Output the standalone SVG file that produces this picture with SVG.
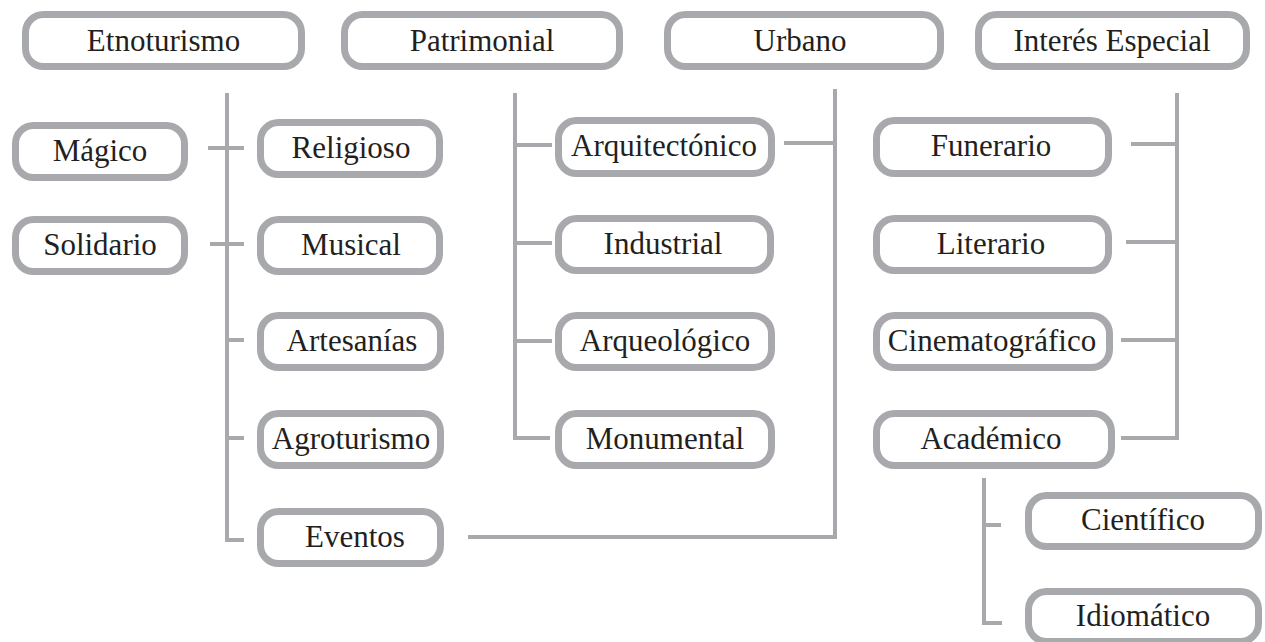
<svg xmlns="http://www.w3.org/2000/svg" width="1265" height="642" viewBox="0 0 1265 642">
  <style>
    .box { fill: #ffffff; stroke: #a7a9ac; stroke-width: 7; }
    .lbl { font-family: "Liberation Serif", "Times New Roman", serif; font-size: 31px; fill: #231f20; text-anchor: middle; }
    .wire { fill: none; stroke: #a7a9ac; stroke-width: 4; stroke-linecap: butt; stroke-linejoin: miter; }
  </style>

  <!-- connectors -->
  <g id="connectors">
    <!-- Etnoturismo branch -->
    <path class="wire" d="M227 93 V540 H244"/>
    <path class="wire" d="M208 148 H244"/>
    <path class="wire" d="M210 244 H244"/>
    <path class="wire" d="M227 340 H244"/>
    <path class="wire" d="M227 438 H244"/>
    <!-- Patrimonial branch -->
    <path class="wire" d="M515 93 V438 H550"/>
    <path class="wire" d="M515 145 H552"/>
    <path class="wire" d="M515 243 H552"/>
    <path class="wire" d="M515 341 H552"/>
    <!-- Urbano branch -->
    <path class="wire" d="M835 89 V537 H468"/>
    <path class="wire" d="M784 143 H835"/>
    <!-- Interés Especial branch -->
    <path class="wire" d="M1177 93 V438 H1121"/>
    <path class="wire" d="M1131 144 H1177"/>
    <path class="wire" d="M1126 242 H1177"/>
    <path class="wire" d="M1121 340 H1177"/>
    <!-- Académico branch -->
    <path class="wire" d="M984 478 V623 H1002"/>
    <path class="wire" d="M984 525 H1001"/>
  </g>

  <!-- top level -->
  <g id="etnoturismo">
    <rect class="box" x="25.5" y="14.5" width="276" height="52" rx="18"/>
    <text class="lbl" x="163.5" y="50.5">Etnoturismo</text>
  </g>
  <g id="patrimonial">
    <rect class="box" x="344.5" y="14.5" width="275" height="52" rx="18"/>
    <text class="lbl" x="482" y="50.5">Patrimonial</text>
  </g>
  <g id="urbano">
    <rect class="box" x="667.5" y="14.5" width="273" height="52" rx="18"/>
    <text class="lbl" x="800" y="50.5">Urbano</text>
  </g>
  <g id="interes-especial">
    <rect class="box" x="978.5" y="14.5" width="268" height="52" rx="18"/>
    <text class="lbl" x="1112" y="50.5">Interés Especial</text>
  </g>

  <!-- Etnoturismo column -->
  <g id="magico">
    <rect class="box" x="15.5" y="125.5" width="169" height="52" rx="18"/>
    <text class="lbl" x="100" y="161">Mágico</text>
  </g>
  <g id="solidario">
    <rect class="box" x="15.5" y="219.5" width="169" height="52" rx="18"/>
    <text class="lbl" x="100" y="255">Solidario</text>
  </g>
  <g id="religioso">
    <rect class="box" x="260.5" y="122.5" width="179" height="52" rx="18"/>
    <text class="lbl" x="351" y="158">Religioso</text>
  </g>
  <g id="musical">
    <rect class="box" x="260.5" y="219.5" width="179" height="52" rx="18"/>
    <text class="lbl" x="351" y="255">Musical</text>
  </g>
  <g id="artesanias">
    <rect class="box" x="260.5" y="315.5" width="180" height="52" rx="18"/>
    <text class="lbl" x="352" y="351">Artesanías</text>
  </g>
  <g id="agroturismo">
    <rect class="box" x="260.5" y="413.5" width="180" height="52" rx="18"/>
    <text class="lbl" x="351" y="449">Agroturismo</text>
  </g>
  <g id="eventos">
    <rect class="box" x="260.5" y="511.5" width="180" height="52" rx="18"/>
    <text class="lbl" x="355" y="547">Eventos</text>
  </g>

  <!-- Patrimonial column -->
  <g id="arquitectonico">
    <rect class="box" x="558.5" y="120.5" width="213" height="53" rx="18"/>
    <text class="lbl" x="664" y="156">Arquitectónico</text>
  </g>
  <g id="industrial">
    <rect class="box" x="558.5" y="218.5" width="212" height="52" rx="18"/>
    <text class="lbl" x="663" y="254">Industrial</text>
  </g>
  <g id="arqueologico">
    <rect class="box" x="558.5" y="315.5" width="213" height="52" rx="18"/>
    <text class="lbl" x="665" y="351">Arqueológico</text>
  </g>
  <g id="monumental">
    <rect class="box" x="558.5" y="413.5" width="213" height="52" rx="18"/>
    <text class="lbl" x="665" y="449">Monumental</text>
  </g>

  <!-- Interés Especial column -->
  <g id="funerario">
    <rect class="box" x="876.5" y="120.5" width="232" height="53" rx="18"/>
    <text class="lbl" x="991" y="156">Funerario</text>
  </g>
  <g id="literario">
    <rect class="box" x="876.5" y="218.5" width="232" height="52" rx="18"/>
    <text class="lbl" x="991" y="254">Literario</text>
  </g>
  <g id="cinematografico">
    <rect class="box" x="876.5" y="315.5" width="233" height="52" rx="18"/>
    <text class="lbl" x="992" y="351">Cinematográfico</text>
  </g>
  <g id="academico">
    <rect class="box" x="876.5" y="413.5" width="235" height="52" rx="18"/>
    <text class="lbl" x="991" y="449">Académico</text>
  </g>
  <g id="cientifico">
    <rect class="box" x="1028.5" y="495.5" width="230" height="51" rx="18"/>
    <text class="lbl" x="1143" y="530">Científico</text>
  </g>
  <g id="idiomatico">
    <rect class="box" x="1028.5" y="591.5" width="230" height="50" rx="18"/>
    <text class="lbl" x="1143" y="626">Idiomático</text>
  </g>
</svg>
